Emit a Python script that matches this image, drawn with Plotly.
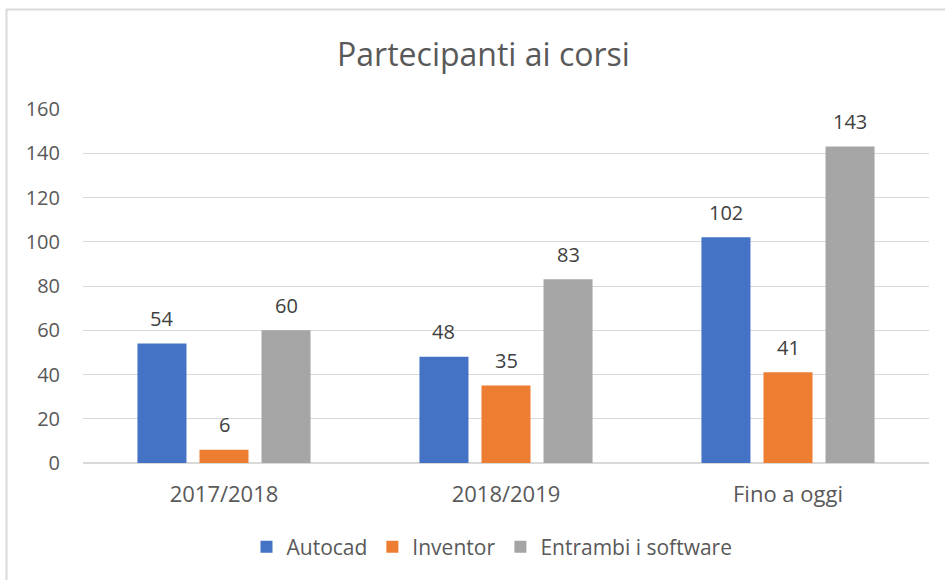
import plotly.graph_objects as go

categories = ["2017/2018", "2018/2019", "Fino a oggi"]
autocad = [54, 48, 102]
inventor = [6, 35, 41]
entrambi = [60, 83, 143]
series_names = ["Autocad", "Inventor", "Entrambi i software"]
colors = ["#4472C4", "#ED7D31", "#A5A5A5"]
y_ticks = [0, 20, 40, 60, 80, 100, 120, 140, 160]

FONT = "Open Sans, Liberation Sans, Arial, sans-serif"
BARGAP = 0.34
BARGROUPGAP = 0.21

series = [autocad, inventor, entrambi]
fig = go.Figure()
for name, vals, col in zip(series_names, series, colors):
    fig.add_trace(go.Bar(
        name=name, x=categories, y=vals, marker=dict(color=col, line=dict(width=0)),
        hoverinfo="skip",
    ))

# data labels above each bar (positions derived from the bar layout parameters)
n = len(series)
slot = (1 - BARGAP) / n
for j, vals in enumerate(series):
    for i, v in enumerate(vals):
        fig.add_annotation(
            x=i + (j - (n - 1) / 2) * slot, y=v, xref="x", yref="y",
            text=str(v), showarrow=False, yanchor="middle", yshift=25,
            font=dict(family=FONT, size=20, color="#404040"),
        )

W, H = 945, 580
L, R, T, B = 83, 16, 109, 117
pw, ph = W - L - R, H - T - B

def px(x):
    return (x - L) / pw

def py(y):
    return (H - B - y) / ph

fig.update_layout(
    width=W, height=H,
    margin=dict(l=L, r=R, t=T, b=B, autoexpand=False),
    paper_bgcolor="white", plot_bgcolor="white",
    barmode="group", bargap=BARGAP, bargroupgap=BARGROUPGAP,
    font=dict(family=FONT, color="#595959"),
    title=dict(text="Partecipanti ai corsi", x=483.5 / W, xanchor="center",
               y=1 - 55 / H, yanchor="middle", xref="container", yref="container",
               font=dict(family=FONT, size=32, color="#595959")),
    yaxis=dict(range=[0, 160], tickvals=y_ticks, showgrid=True, gridcolor="#D9D9D9",
               gridwidth=1, zeroline=True, zerolinecolor="#D9D9D9", zerolinewidth=1.5,
               tickfont=dict(family=FONT, size=20, color="#595959"), ticklabelstandoff=22,
               fixedrange=True),
    xaxis=dict(showgrid=False, tickfont=dict(family=FONT, size=22, color="#595959"),
               ticklabelstandoff=16, showline=False, fixedrange=True),
    legend=dict(orientation="h", x=px(492), xanchor="center", y=py(547), yanchor="middle",
                font=dict(family=FONT, size=21, color="#595959"), itemwidth=30,
                traceorder="normal"),
    showlegend=True,
)

border = "#D9D9D9"
fig.add_shape(type="line", xref="paper", yref="paper", x0=px(6), x1=px(W + 5),
              y0=py(9.5), y1=py(9.5), line=dict(color=border, width=2))
fig.add_shape(type="line", xref="paper", yref="paper", x0=px(6.5), x1=px(6.5),
              y0=py(9), y1=py(H + 5), line=dict(color=border, width=2))

fig.write_html("out.html", config={"displayModeBar": False},
               post_script="document.body.style.margin='0';")
